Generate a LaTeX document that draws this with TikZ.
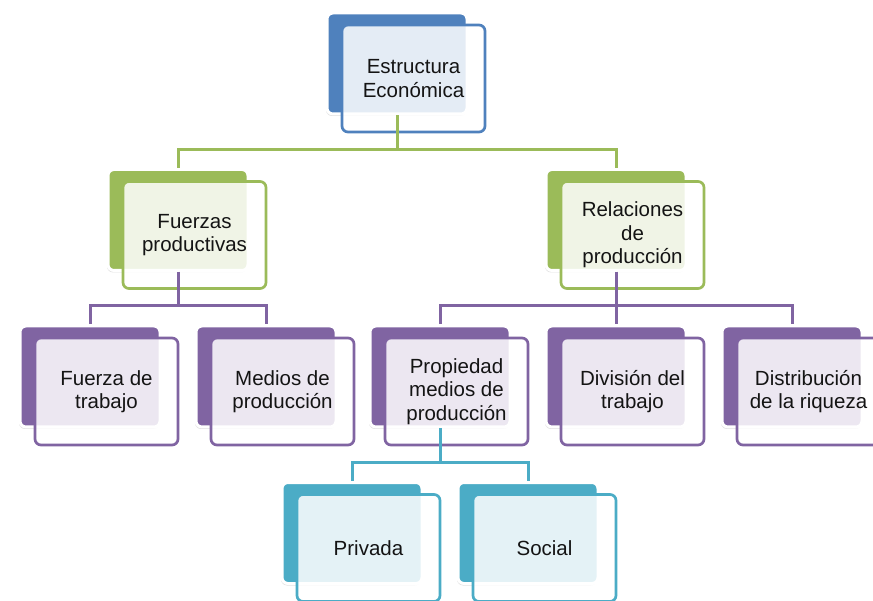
\documentclass[tikz,border=0pt]{standalone}
\usepackage{fontspec}
\setmainfont{Liberation Sans}
\usetikzlibrary{shadows}
\definecolor{azul}{HTML}{4F81BD}
\definecolor{verde}{HTML}{9BBB59}
\definecolor{morado}{HTML}{8064A2}
\definecolor{cian}{HTML}{4BACC6}

\begin{document}
\begin{tikzpicture}[x=1pt, y=1pt,
  level distance=156.5pt,
  level 1/.style={sibling distance=438pt,
    edge from parent/.style={draw=verde, line width=3pt}},
  level 2/.style={sibling distance=176pt,
    edge from parent/.style={draw=morado, line width=3pt}},
  level 3/.style={sibling distance=176pt,
    edge from parent/.style={draw=cian, line width=3pt}},
  edge from parent path={(\tikzparentnode.south) -- ++(0,-34pt) -| (\tikzchildnode.north)},
  box/.style = {shape=rectangle, rounded corners=6pt,
    draw=white, line width=3pt, fill=#1,
    minimum width=140pt, minimum height=101pt,
    drop shadow={shadow xshift=-1pt, shadow yshift=-2pt, opacity=0.25}},
  front/.style = {shape=rectangle, rounded corners=6pt,
    draw=#1, line width=2.7pt, fill=white, fill opacity=0.85, text opacity=1,
    minimum width=143pt, minimum height=107pt, align=center,
    xshift=16.5pt, yshift=-15pt, text=black!92,
    font=\fontsize{20.5}{23.5}\selectfont}]
  \useasboundingbox (0,0) rectangle (873,-601);
  \node[box=azul, label={[front=azul]center:Estructura\\Económica}] at (397,-63.5) {}
    child { node[box=verde, label={[front=verde]center:Fuerzas\\productivas}] {}
      child { node[box=morado, label={[front=morado]center:Fuerza de\\trabajo}] {} }
      child { node[box=morado, label={[front=morado]center:Medios de\\producción}] {} } }
    child { node[box=verde, label={[front=verde]center:Relaciones\\de\\producción}] {}
      child { node[box=morado, label={[front=morado]center:Propiedad\\medios de\\producción}] {}
        child { node[box=cian, label={[front=cian]center:Privada}] {} }
        child { node[box=cian, label={[front=cian]center:Social}] {} } }
      child { node[box=morado, label={[front=morado]center:División del\\trabajo}] {} }
      child { node[box=morado, label={[front=morado]center:Distribución\\de la riqueza}] {} } };
\end{tikzpicture}
\end{document}
